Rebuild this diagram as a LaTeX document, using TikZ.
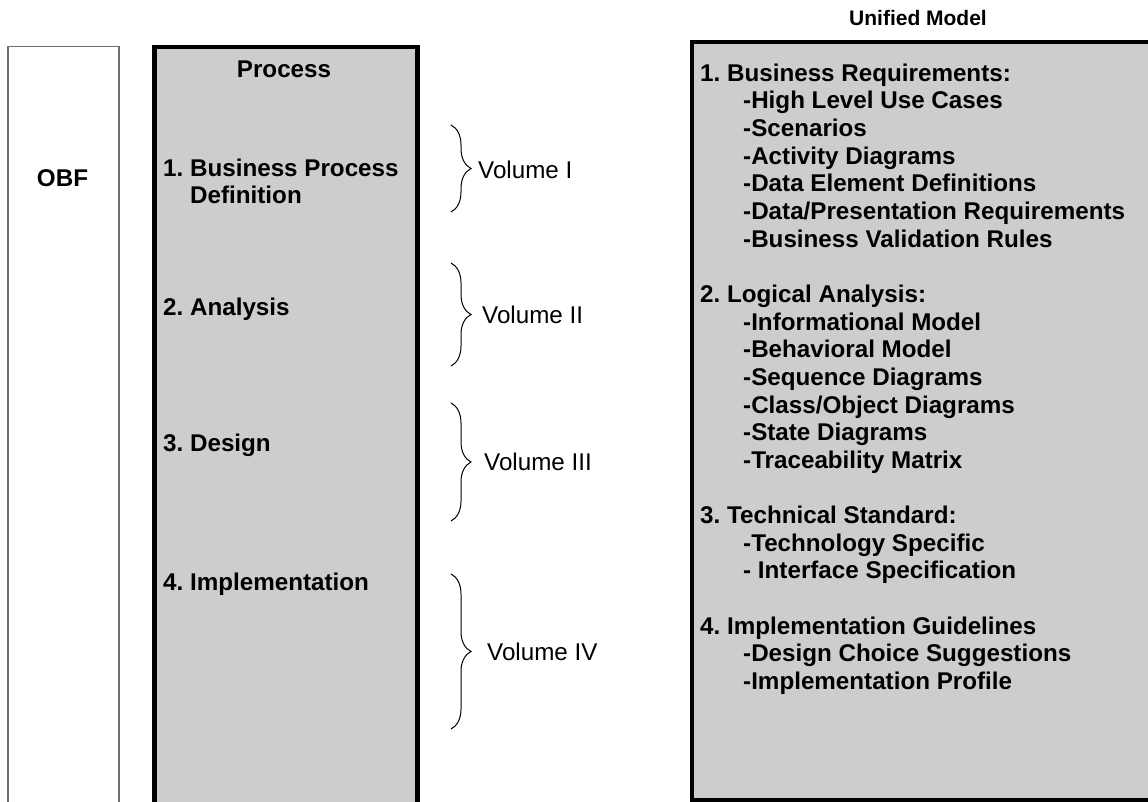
\documentclass[tikz,border=0pt]{standalone}
\usepackage{fontspec}
\setmainfont{Liberation Sans}
\usetikzlibrary{decorations.pathreplacing}
\definecolor{fillgray}{HTML}{CDCDCD}
\definecolor{thingray}{HTML}{707070}
\frenchspacing
\begin{document}
\begin{tikzpicture}[x=1pt,y=-1pt,
  lbl/.style={font=\fontsize{24.2}{27.6}\selectfont\bfseries, inner sep=0pt, anchor=west, text height=17.5pt, text depth=0pt},
  vol/.style={font=\fontsize{24.2}{27.6}\selectfont, inner sep=0pt, anchor=west, text height=17.5pt, text depth=0pt},
  panel/.style={draw=black, line width=4.5pt, fill=fillgray, anchor=north west, inner sep=0pt},
  plainbox/.style={draw=thingray, line width=1.5pt, anchor=north west, inner sep=0pt},
  vbrace/.style={decorate, decoration={brace, amplitude=20pt}, line width=1pt}]
\useasboundingbox (0,0) rectangle (1148,802);
\begin{scope}
\clip (0,0) rectangle (1148,802);
\node[plainbox, minimum width=111pt, minimum height=800pt] (obfbox) at (7,46) {};
\node[panel, minimum width=263pt, minimum height=800pt] (procbox) at (152,45) {};
\node[panel, line width=4pt, minimum width=470pt, minimum height=758pt] (unibox) at (690,40) {};
\end{scope}

% OBF
\node[lbl, anchor=center] (obf) at (62.5,178) {OBF};

% Process column
\node[lbl, anchor=center] (proc) at (284,69) {Process};
\node[lbl] (p1a) at (163,168) {1. Business Process};
\node[lbl] (p1b) at (190,195) {Definition};
\node[lbl] (p2) at (163,307) {2. Analysis};
\node[lbl] (p3) at (163,443) {3. Design};
\node[lbl] (p4) at (163,582) {4. Implementation};

% Braces and volumes
\coordinate (b1t) at (451,125); \coordinate (b1b) at (451,212);
\coordinate (b2t) at (451,263); \coordinate (b2b) at (451,366);
\coordinate (b3t) at (451,403); \coordinate (b3b) at (451,521);
\coordinate (b4t) at (451,574); \coordinate (b4b) at (451,729);
\draw[vbrace] (b1t) -- (b1b);
\draw[vbrace] (b2t) -- (b2b);
\draw[vbrace] (b3t) -- (b3b);
\draw[vbrace] (b4t) -- (b4b);
\node[vol] (v1) at (478,170) {Volume I};
\node[vol] (v2) at (482,315) {Volume II};
\node[vol] (v3) at (484,462) {Volume III};
\node[vol] (v4) at (487,652) {Volume IV};

% Unified model
\node[lbl, anchor=center, font=\fontsize{21}{24}\selectfont\bfseries] (unititle) at (918,17) {Unified Model};
\foreach \k/\xx/\t in {
  0/700/{1. Business Requirements:},
  1/743/{-High Level Use Cases},
  2/743/{-Scenarios},
  3/743/{-Activity Diagrams},
  4/743/{-Data Element Definitions},
  5/743/{-Data/Presentation Requirements},
  6/743/{-Business Validation Rules},
  8/700/{2. Logical Analysis:},
  9/743/{-Informational Model},
  10/743/{-Behavioral Model},
  11/743/{-Sequence Diagrams},
  12/743/{-Class/Object Diagrams},
  13/743/{-State Diagrams},
  14/743/{-Traceability Matrix},
  16/700/{3. Technical Standard:},
  17/743/{-Technology Specific},
  18/743/{- Interface Specification},
  20/700/{4. Implementation Guidelines},
  21/743/{-Design Choice Suggestions},
  22/743/{-Implementation Profile}}
  \node[lbl] (u\k) at (\xx,72.5+27.65*\k) {\t};
\end{tikzpicture}
\end{document}
